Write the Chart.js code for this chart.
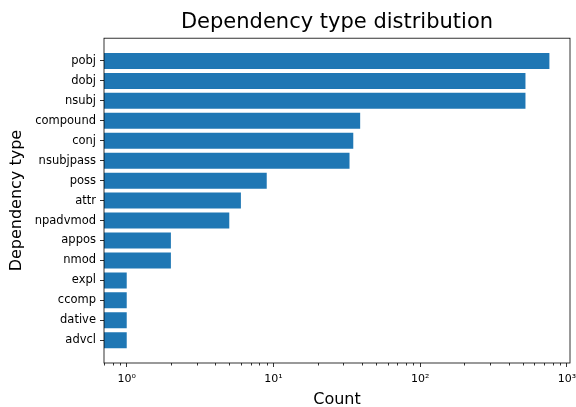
<!DOCTYPE html>
<html>
<head>
<meta charset="utf-8">
<script src="https://cdn.jsdelivr.net/npm/chart.js@4"></script>
<style>
  html, body { margin: 0; padding: 0; background: #fff; }
  #wrap { width: 576px; height: 407px; }
</style>
</head>
<body>
<div id="wrap"><canvas id="depChart"></canvas></div>
<script>
// 의존 관계 유형과 개수
const depTypes = ['pobj', 'dobj', 'nsubj', 'compound', 'conj', 'nsubjpass', 'poss', 'attr',
  'npadvmod', 'appos', 'nmod', 'expl', 'ccomp', 'dative', 'advcl'];
const depCounts = [760, 522, 522, 39, 35, 33, 9, 6, 5, 2, 2, 1, 1, 1, 1];

// x축 눈금 (10의 거듭제곱)
const countTicks = [1, 10, 100, 1000];
const countTickLabels = ['10⁰', '10¹', '10²', '10³'];

Chart.defaults.font.family = "'DejaVu Sans', sans-serif";
Chart.defaults.color = '#000';
Chart.defaults.maintainAspectRatio = false;

// 테두리 박스와 x축 보조 눈금 그리기
const frameAndMinorTicks = {
  id: 'frameAndMinorTicks',
  afterDraw(chart) {
    const { ctx, chartArea: a, scales: { x } } = chart;
    ctx.save();
    ctx.strokeStyle = '#000';
    ctx.lineWidth = 0.8;
    for (let e = -1; e <= 3; e++) {
      for (let m = 2; m <= 9; m++) {
        const v = m * Math.pow(10, e);
        if (v < x.min || v > x.max) continue;
        const px = Math.round(x.getPixelForValue(v)) + 0.5;
        ctx.beginPath();
        ctx.moveTo(px, a.bottom);
        ctx.lineTo(px, a.bottom + 2.5);
        ctx.stroke();
      }
    }
    ctx.strokeRect(a.left, a.top, a.right - a.left, a.bottom - a.top);
    ctx.restore();
  }
};

const ctx = document.getElementById('depChart').getContext('2d');
new Chart(ctx, {
  type: 'bar',
  data: {
    datasets: [{
      data: depCounts.map((v, i) => ({ x: v, y: i })),
      backgroundColor: '#1f77b4',
      borderWidth: 0,
      categoryPercentage: 1,
      barPercentage: 0.8
    }]
  },
  options: {
    indexAxis: 'y',
    animation: false,
    layout: { padding: { left: 0, right: 6, top: 0, bottom: 0 } },
    plugins: {
      legend: { display: false },
      tooltip: { enabled: false },
      title: {
        display: true,
        text: 'Dependency type distribution',
        fullSize: false,
        font: { size: 21, weight: 'normal' },
        padding: { top: 10, bottom: 3 }
      }
    },
    scales: {
      x: {
        type: 'logarithmic',
        min: 0.72,
        max: 1050,
        afterBuildTicks: s => { s.ticks = countTicks.map(v => ({ value: v, major: true })); },
        afterFit: s => { s.height = 44; s.paddingLeft = 0; s.paddingRight = 0; },
        ticks: {
          autoSkip: false,
          maxRotation: 0,
          padding: 6,
          font: { size: 11 },
          callback: (v, i) => countTickLabels[i]
        },
        grid: { drawOnChartArea: false, tickLength: 4, tickColor: '#000', tickWidth: 0.8 },
        border: { display: false },
        title: { display: true, text: 'Count', font: { size: 16, lineHeight: 0.9 }, padding: { top: 0, bottom: 0 } }
      },
      y: {
        type: 'linear',
        reverse: true,
        offset: false,
        min: -1.14,
        max: 15.14,
        afterBuildTicks: s => { s.ticks = depTypes.map((_, i) => ({ value: i })); },
        afterFit: s => { s.width = 104; },
        ticks: {
          autoSkip: false,
          padding: 4,
          font: { size: 11.5 },
          callback: v => depTypes[v]
        },
        grid: { offset: false, drawOnChartArea: false, tickLength: 4, tickColor: '#000', tickWidth: 0.8 },
        border: { display: false },
        title: { display: true, text: 'Dependency type', font: { size: 16 }, padding: { top: 7 } }
      }
    }
  },
  plugins: [frameAndMinorTicks]
});
</script>
</body>
</html>
